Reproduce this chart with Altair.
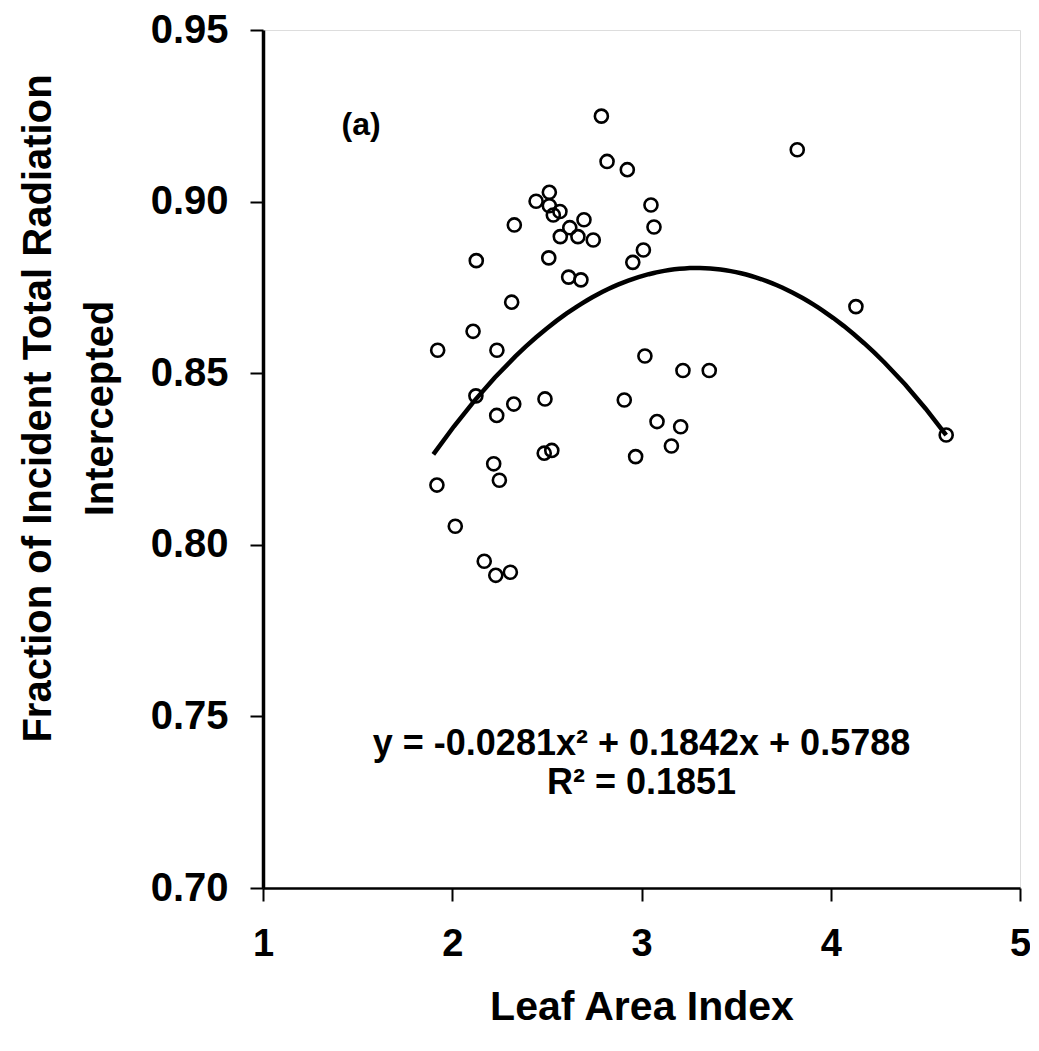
import altair as alt
import pandas as pd

# Leaf Area Index (x) and fraction of incident radiation intercepted (y)
lai = [2.788, 2.818, 2.925, 2.513, 2.443, 2.513, 2.569, 2.534, 2.696, 2.328,
       2.621, 2.571, 2.664, 2.745, 3.050, 3.066, 3.010, 2.954, 2.127, 2.510,
       2.615, 2.680, 2.314, 2.110, 1.923, 2.236, 2.125, 2.325, 2.235, 2.490,
       3.018, 3.219, 3.358, 2.909, 3.082, 3.207, 3.158, 2.969, 2.486, 2.526,
       2.219, 2.249, 1.919, 2.016, 2.169, 2.230, 2.307, 3.823, 4.133, 4.610]
frac = [0.9249, 0.9117, 0.9093, 0.9027, 0.9001, 0.8988, 0.8971, 0.8961, 0.8947, 0.8932,
        0.8924, 0.8898, 0.8898, 0.8888, 0.8990, 0.8926, 0.8859, 0.8823, 0.8828, 0.8836,
        0.8780, 0.8772, 0.8707, 0.8622, 0.8567, 0.8567, 0.8434, 0.8410, 0.8377, 0.8425,
        0.8550, 0.8508, 0.8508, 0.8422, 0.8359, 0.8344, 0.8288, 0.8257, 0.8267, 0.8275,
        0.8236, 0.8188, 0.8174, 0.8054, 0.7952, 0.7911, 0.7920, 0.9151, 0.8694, 0.8320]

x_ticks = [1, 2, 3, 4, 5]
y_ticks = [0.70, 0.75, 0.80, 0.85, 0.90, 0.95]
panel_label = ["(a)"]
equation_lines = ["y = -0.0281x\u00b2 + 0.1842x + 0.5788", "R\u00b2 = 0.1851"]

df = pd.DataFrame({"lai": lai, "frac": frac})

W, H = 757, 858
tick_font = "Liberation Sans, Arial, sans-serif"
title_font = "Liberation Sans, Arial, sans-serif"

xscale = alt.Scale(domain=[1, 5], nice=False, zero=False)
yscale = alt.Scale(domain=[0.70, 0.95], nice=False, zero=False)

xaxis = alt.Axis(values=x_ticks, format="d", title="Leaf Area Index",
                 grid=False, tickSize=13, tickWidth=2, tickColor="black",
                 domainColor="black", domainWidth=2.5,
                 labelFont=tick_font, labelFontSize=38, labelFontWeight="bold",
                 labelColor="black", labelPadding=24, labelFlush=False,
                 titleFont=title_font, titleFontSize=41, titleFontWeight="bold",
                 titleColor="black", titlePadding=24)
yaxis = alt.Axis(values=y_ticks, format=".2f",
                 title=["Fraction of Incident Total Radiation", "Intercepted"],
                 grid=False, tickSize=13, tickWidth=2, tickColor="black",
                 domainColor="black", domainWidth=3.5,
                 labelFont=tick_font, labelFontSize=40, labelFontWeight="bold",
                 labelColor="black", labelPadding=22, labelFlush=False,
                 titleFont=title_font, titleFontSize=40, titleFontWeight="bold",
                 titleColor="black", titleLineHeight=62,
                 titleX=-225, titleY=378, titleBaseline="middle",
                 titleAlign="center", titleAngle=270)

base = alt.Chart(df)

points = base.mark_point(shape="circle", filled=False, size=170, strokeWidth=2.6,
                         color="black", opacity=1).encode(
    x=alt.X("lai:Q", scale=xscale, axis=xaxis),
    y=alt.Y("frac:Q", scale=yscale, axis=yaxis),
)

fit = base.transform_regression("lai", "frac", method="poly", order=2,
                                extent=[1.9, 4.61]).mark_line(
    color="black", strokeWidth=4.5).encode(
    x=alt.X("lai:Q", scale=xscale),
    y=alt.Y("frac:Q", scale=yscale),
)

lab_df = pd.DataFrame({"t": panel_label, "x": [1.518], "y": [0.9224]})
label = alt.Chart(lab_df).mark_text(font=tick_font, fontSize=32, fontWeight="bold",
                                    color="black", align="center").encode(
    x=alt.X("x:Q", scale=xscale), y=alt.Y("y:Q", scale=yscale), text="t:N")

eq_df = pd.DataFrame({"t": equation_lines, "x": [3.0, 3.0], "y": [0.7420, 0.7305]})
eq = alt.Chart(eq_df).mark_text(font=title_font, fontSize=36, fontWeight="bold",
                                color="black", align="center").encode(
    x=alt.X("x:Q", scale=xscale), y=alt.Y("y:Q", scale=yscale), text="t:N")

chart = alt.layer(fit, points, label, eq).properties(
    width=W, height=H,
    autosize=alt.AutoSizeParams(type="none"),
    padding={"left": 255, "top": 22, "right": 10, "bottom": 155},
).configure_view(stroke="#aaaaaa", strokeDash=[2, 4], strokeWidth=1
).configure(background="white")

chart.save("out.html", embed_options={"renderer": "svg", "actions": False})
